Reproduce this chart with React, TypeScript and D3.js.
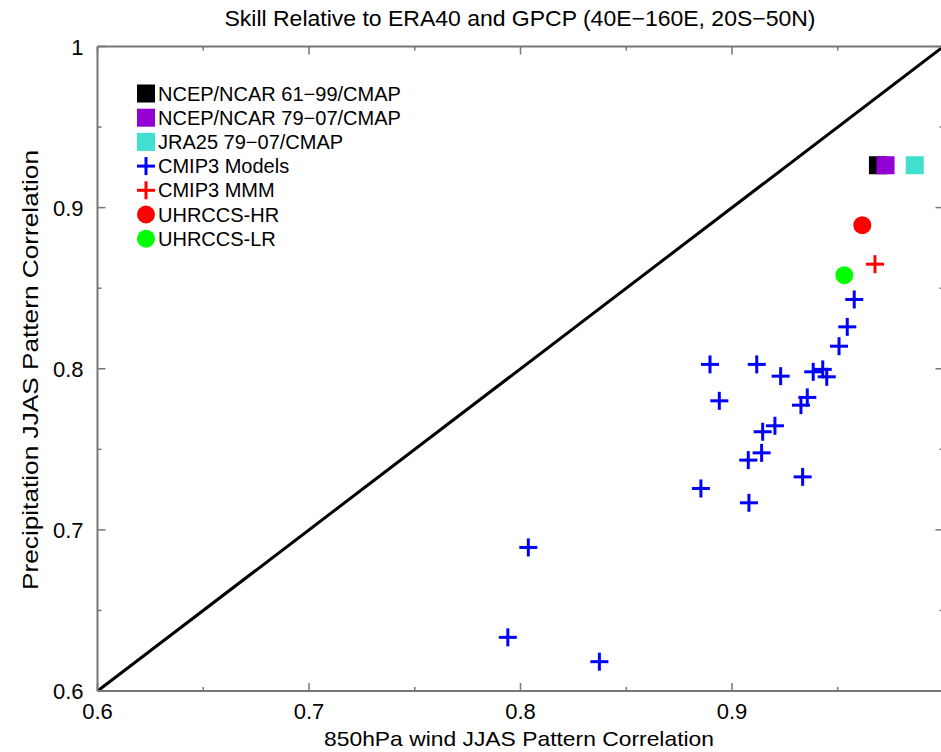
import React from "react";
import * as d3 from "d3";

const modelX = [0.8896, 0.9117, 0.923, 0.894, 0.9384, 0.9429, 0.9448, 0.9356, 0.9326, 0.9203, 0.9145, 0.914, 0.9077, 0.9334, 0.8853, 0.908, 0.9506, 0.9545, 0.9578, 0.8037, 0.794, 0.8373];
const modelY = [0.8027, 0.8027, 0.7954, 0.7801, 0.7981, 0.7996, 0.795, 0.7822, 0.7774, 0.7646, 0.7609, 0.7478, 0.7433, 0.7329, 0.7257, 0.7168, 0.814, 0.826, 0.843, 0.6891, 0.6333, 0.6182];
const mmm = { x: 0.9676, y: 0.8649 };
const circleNames = ["UHRCCS-HR", "UHRCCS-LR"];
const circleX = [0.9616, 0.9531];
const circleY = [0.8891, 0.8581];
const circleColors = ["#ff0000", "#00ff00"];
const squareNames = ["NCEP/NCAR 61\u221299/CMAP", "NCEP/NCAR 79\u221207/CMAP", "JRA25 79\u221207/CMAP"];
const squareX = [0.969, 0.9726, 0.9864];
const squareY = [0.9263, 0.9263, 0.9263];
const squareColors = ["#000000", "#9400d3", "#40e0d0"];
const majorTicks = [0.6, 0.7, 0.8, 0.9, 1.0];
const minorTicks = [0.65, 0.75, 0.85, 0.95];
const xTickLabels = ["0.6", "0.7", "0.8", "0.9"];
const yTickLabels = ["0.6", "0.7", "0.8", "0.9", "1"];

const FONT = "'Liberation Sans', Arial, Helvetica, sans-serif";

export default function App() {
  const x = d3.scaleLinear().domain([0.6, 1.0]).range([97.5, 943.5]);
  const y = d3.scaleLinear().domain([0.6, 1.0]).range([691, 46.5]);
  const axisColor = "#777";
  const x0 = x(0.6), x1 = x(1.0), y0 = y(0.6), y1 = y(1.0);
  const cross = (cx: number, cy: number, color: string, key: string) => (
    <g key={key} stroke={color} strokeWidth={3}>
      <line x1={cx - 9} x2={cx + 9} y1={cy} y2={cy} />
      <line x1={cx} x2={cx} y1={cy - 9} y2={cy + 9} />
    </g>
  );
  const legendItems = [
    { type: "square", color: squareColors[0], label: squareNames[0] },
    { type: "square", color: squareColors[1], label: squareNames[1] },
    { type: "square", color: squareColors[2], label: squareNames[2] },
    { type: "cross", color: "#0000ff", label: "CMIP3 Models" },
    { type: "cross", color: "#ff0000", label: "CMIP3 MMM" },
    { type: "circle", color: circleColors[0], label: circleNames[0] },
    { type: "circle", color: circleColors[1], label: circleNames[1] },
  ];
  const line = d3.line<number>().x((d) => x(d)).y((d) => y(d));
  return (
    <svg width={941} height={752} style={{ position: "absolute", left: 0, top: 0, background: "#fff" }} fontFamily={FONT}>
      <rect x={0} y={0} width={941} height={752} fill="#fff" />
      <path d={line([0.6, 1.0]) || ""} stroke="#000" strokeWidth={3} fill="none" />
      <g stroke={axisColor} strokeWidth={2} fill="none">
        <line x1={x0} x2={x1} y1={y0} y2={y0} />
        <line x1={x0} x2={x1} y1={y1} y2={y1} />
        <line x1={x0} x2={x0} y1={y0} y2={y1} />
        <line x1={x1} x2={x1} y1={y0} y2={y1} />
      </g>
      <g stroke={axisColor} strokeWidth={1.5}>
        {majorTicks.map((t) => (
          <g key={"M" + t}>
            <line x1={x(t)} x2={x(t)} y1={y0} y2={y0 - 8} />
            <line x1={x(t)} x2={x(t)} y1={y1} y2={y1 + 8} />
            <line x1={x0} x2={x0 + 8} y1={y(t)} y2={y(t)} />
            <line x1={x1} x2={x1 - 8} y1={y(t)} y2={y(t)} />
          </g>
        ))}
        {minorTicks.map((t) => (
          <g key={"m" + t}>
            <line x1={x(t)} x2={x(t)} y1={y0} y2={y0 - 4} />
            <line x1={x(t)} x2={x(t)} y1={y1} y2={y1 + 4} />
            <line x1={x0} x2={x0 + 4} y1={y(t)} y2={y(t)} />
            <line x1={x1} x2={x1 - 4} y1={y(t)} y2={y(t)} />
          </g>
        ))}
      </g>
      {xTickLabels.map((l) => (
        <text key={"xl" + l} x={x(+l)} y={y0 + 28} textAnchor="middle" fontSize={22} fill="#000">{l}</text>
      ))}
      {yTickLabels.map((l) => (
        <text key={"yl" + l} x={x0 - 14} y={y(+l) + 8} textAnchor="end" fontSize={22} fill="#000">{l}</text>
      ))}
      <text x={520} y={26} textAnchor="middle" fontSize={22} textLength={591} lengthAdjust="spacingAndGlyphs" fill="#000">
        Skill Relative to ERA40 and GPCP (40E{"\u2212"}160E, 20S{"\u2212"}50N)
      </text>
      <text x={519} y={746} textAnchor="middle" fontSize={21} textLength={390} lengthAdjust="spacingAndGlyphs" fill="#000">
        850hPa wind JJAS Pattern Correlation
      </text>
      <text transform={`translate(38,370) rotate(-90)`} textAnchor="middle" fontSize={22} textLength={440} lengthAdjust="spacingAndGlyphs" fill="#000">
        Precipitation JJAS Pattern Correlation
      </text>
      {squareX.map((sx, i) => (
        <rect key={"sq" + i} x={x(sx) - 9} y={y(squareY[i]) - 9} width={18} height={18} fill={squareColors[i]} />
      ))}
      {modelX.map((mx, i) => cross(x(mx), y(modelY[i]), "#0000ff", "c" + i))}
      {cross(x(mmm.x), y(mmm.y), "#ff0000", "mmm")}
      {circleX.map((cx, i) => (
        <circle key={"ci" + i} cx={x(cx)} cy={y(circleY[i])} r={9} fill={circleColors[i]} />
      ))}
      {legendItems.map((it, i) => {
        const ly = 93.5 + i * 24.2;
        const lx = 146;
        return (
          <g key={"lg" + i}>
            {it.type === "square" && <rect x={lx - 9} y={ly - 9} width={18} height={18} fill={it.color} />}
            {it.type === "cross" && cross(lx, ly, it.color, "lc" + i)}
            {it.type === "circle" && <circle cx={lx} cy={ly} r={9} fill={it.color} />}
            <text x={158} y={ly + 7} fontSize={20} fill="#000">{it.label}</text>
          </g>
        );
      })}
    </svg>
  );
}
